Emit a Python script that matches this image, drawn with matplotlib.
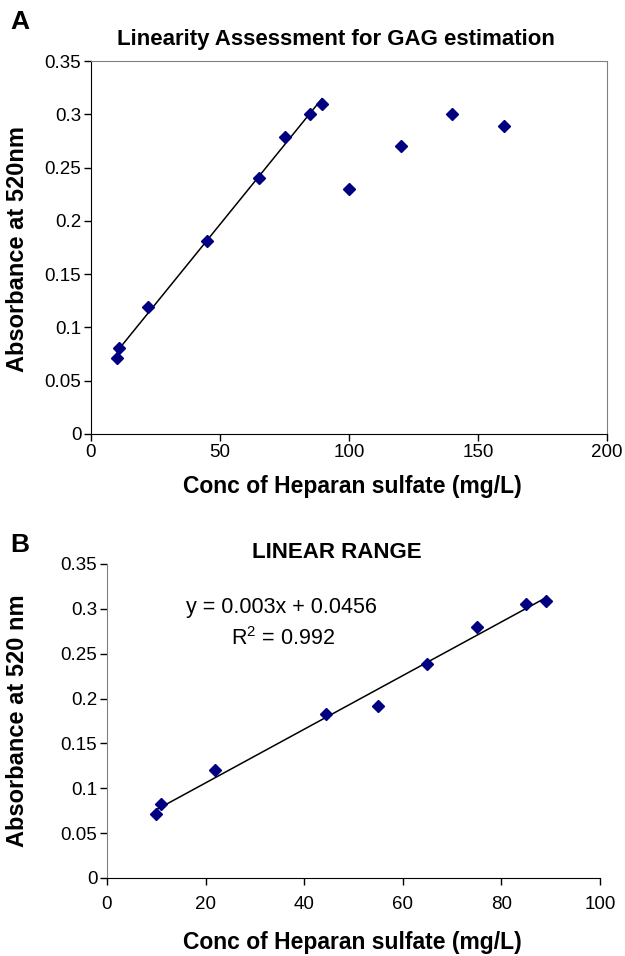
import numpy as np
import matplotlib.pyplot as plt

plt.rcParams['font.family'] = ['Liberation Sans', 'DejaVu Sans']

# painel A - todos os pontos
conc_a = [10, 11, 22, 45, 65, 75, 85, 89.5, 100, 120, 140, 160]
abs_a = [0.071, 0.081, 0.119, 0.181, 0.240, 0.279, 0.300, 0.310, 0.230, 0.270, 0.300, 0.289]
n_linear = 8  # os 8 primeiros entram na reta

# painel B - faixa linear
conc_b = [10, 11, 22, 44.5, 55, 65, 75, 85, 89]
abs_b = [0.071, 0.082, 0.120, 0.183, 0.192, 0.239, 0.280, 0.305, 0.309]

eq_text = 'y = 0.003x + 0.0456'
r2_text = '$\\mathregular{R^2}$ = 0.992'

W, H = 625, 956
fig = plt.figure(figsize=(W / 100, H / 100), dpi=100)


def px_axes(l, t, r, b):
    return fig.add_axes([l / W, 1 - b / H, (r - l) / W, (b - t) / H])


navy = '#000080'
tick_fs = 13.5
lab_fs = 16.5

# ---------- A ----------
ax = px_axes(91, 61, 607, 434)
ax.plot(conc_a, abs_a, 'D', color=navy, ms=6, zorder=3)
k, c = np.polyfit(conc_a[:n_linear], abs_a[:n_linear], 1)
xs = np.array([conc_a[0], conc_a[n_linear - 1]])
ax.plot(xs, k * xs + c, color='black', lw=1.1)
ax.set_xlim(0, 200)
ax.set_ylim(0, 0.35)
ax.set_xticks([0, 50, 100, 150, 200])
ax.set_yticks(np.arange(0, 0.351, 0.05))
ax.set_yticklabels(['0', '0.05', '0.1', '0.15', '0.2', '0.25', '0.3', '0.35'])
for s in ['top', 'right']:
    ax.spines[s].set_color('#808080')
ax.tick_params(labelsize=tick_fs, direction='out', length=5, width=1, pad=2)

fig.text(336 / W, 1 - 40 / H, 'Linearity Assessment for GAG estimation',
         ha='center', va='center', fontsize=16, fontweight='bold')
fig.text(352 / W, 1 - 486 / H, 'Conc of Heparan sulfate (mg/L)',
         ha='center', va='center', fontsize=lab_fs, fontweight='bold')
fig.text(18 / W, 1 - 249 / H, 'Absorbance at 520nm', rotation=90,
         ha='center', va='center', fontsize=17, fontweight='bold')
fig.text(10 / W, 1 - 22 / H, 'A', ha='left', va='center', fontsize=19, fontweight='bold')

# ---------- B ----------
bx = px_axes(107, 564, 600, 878)
bx.plot(conc_b, abs_b, 'D', color=navy, ms=6, zorder=3)
k2, c2 = np.polyfit(conc_b, abs_b, 1)
xs2 = np.array([conc_b[0], conc_b[-1]])
bx.plot(xs2, k2 * xs2 + c2, color='black', lw=1.1)
bx.set_xlim(0, 100)
bx.set_ylim(0, 0.35)
bx.set_xticks([0, 20, 40, 60, 80, 100])
bx.set_yticks(np.arange(0, 0.351, 0.05))
bx.set_yticklabels(['0', '0.05', '0.1', '0.15', '0.2', '0.25', '0.3', '0.35'])
bx.spines['top'].set_visible(False)
bx.spines['right'].set_visible(False)
bx.spines['left'].set_color('#808080')
bx.tick_params(labelsize=tick_fs, direction='out', length=5, width=1, pad=2)
bx.tick_params(axis='x', pad=8)
bx.text(281 / W, 1 - 607 / H, eq_text, transform=fig.transFigure,
        ha='center', va='center', fontsize=15.5)
bx.text(283 / W, 1 - 639 / H, r2_text, transform=fig.transFigure,
        ha='center', va='center', fontsize=15.5)

fig.text(337 / W, 1 - 552 / H, 'LINEAR RANGE',
         ha='center', va='center', fontsize=16, fontweight='bold')
fig.text(352 / W, 1 - 942 / H, 'Conc of Heparan sulfate (mg/L)',
         ha='center', va='center', fontsize=lab_fs, fontweight='bold')
fig.text(18 / W, 1 - 721 / H, 'Absorbance at 520 nm', rotation=90,
         ha='center', va='center', fontsize=17, fontweight='bold')
fig.text(10 / W, 1 - 545 / H, 'B', ha='left', va='center', fontsize=19, fontweight='bold')

fig.savefig('out.png', dpi=100)
